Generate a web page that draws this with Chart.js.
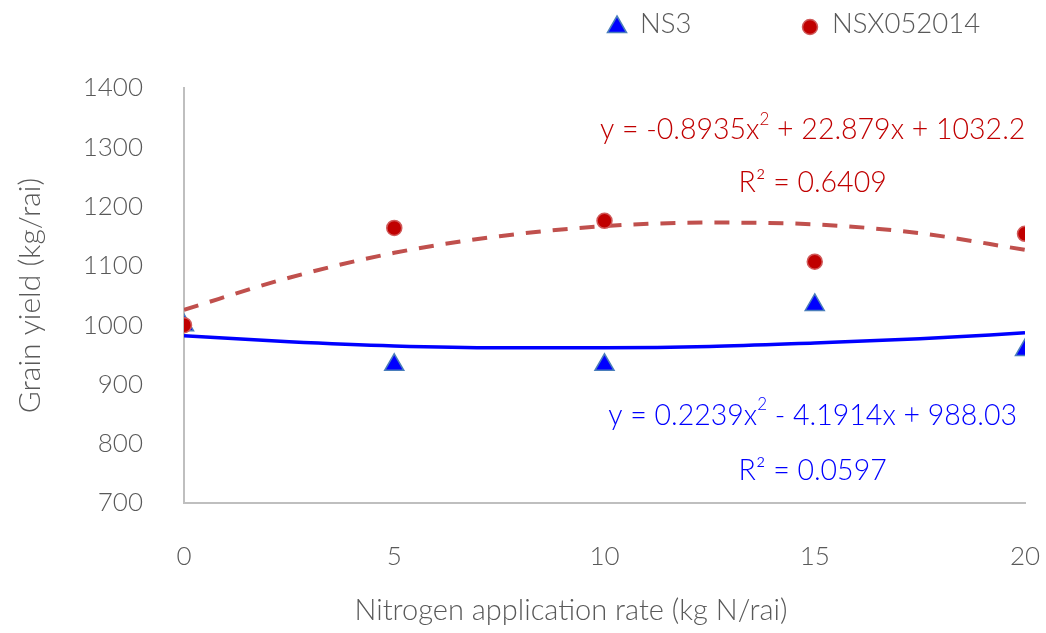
<!DOCTYPE html>
<html>
<head>
<meta charset="utf-8">
<script src="https://cdn.jsdelivr.net/npm/chart.js@4/dist/chart.umd.min.js"></script>
<style>
  html,body{margin:0;padding:0;background:#fff;}
  #wrap{width:1046px;height:633px;position:relative;}
</style>
</head>
<body>
<div id="wrap"><canvas id="c" width="1046" height="633"></canvas></div>
<script>
// ---- data ----
const nitrogenRates = [0, 5, 10, 15, 20];
const ns3Yield = [1000, 933, 933, 1034, 958];
const nsxYield = [1000, 1164, 1176, 1107, 1154];
const trendRates = [0, 2.5, 5, 7.5, 10, 12.5, 15, 17.5, 20];
const ns3Trend = [982, 972, 965, 962, 962, 964, 970, 977, 987];
const nsxTrend = [1026, 1080, 1122, 1150, 1167, 1173, 1170, 1155, 1127];
const seriesNames = ['NS3', 'NSX052014'];
const nsxEquation = ['y = -0.8935x', '2', ' + 22.879x + 1032.2'];
const nsxR2 = 'R² = 0.6409';
const ns3Equation = ['y = 0.2239x', '2', ' - 4.1914x + 988.03'];
const ns3R2 = 'R² = 0.0597';
const xTitle = 'Nitrogen application rate (kg N/rai)';
const yTitle = 'Grain yield (kg/rai)';

const FONT = "Lato, 'Open Sans', sans-serif";
const W = 300;
const GREY = '#595959';

const pts = (xs, ys) => xs.map((x, i) => ({x: x, y: ys[i]}));

const annotPlugin = {
  id: 'annot',
  afterDatasetsDraw(chart) {
    const ctx = chart.ctx;
    const xs = chart.scales.x, ys = chart.scales.y;
    const big = W + ' 28.5px ' + FONT, small = W + ' 17px ' + FONT;
    function eq(parts, xv, yv, color) {
      ctx.save();
      ctx.fillStyle = color;
      ctx.textBaseline = 'middle';
      ctx.font = big; const w0 = ctx.measureText(parts[0]).width;
      const w2 = ctx.measureText(parts[2]).width;
      ctx.font = small; const w1 = ctx.measureText(parts[1]).width;
      let x = xs.getPixelForValue(xv) - (w0 + w1 + w2) / 2;
      const y = ys.getPixelForValue(yv);
      ctx.textAlign = 'left';
      ctx.font = big; ctx.fillText(parts[0], x, y); x += w0;
      ctx.font = small; ctx.fillText(parts[1], x, y - 11); x += w1;
      ctx.font = big; ctx.fillText(parts[2], x, y);
      ctx.restore();
    }
    function txt(t, xv, yv, color) {
      ctx.save();
      ctx.fillStyle = color; ctx.font = big;
      ctx.textAlign = 'center'; ctx.textBaseline = 'middle';
      ctx.fillText(t, xs.getPixelForValue(xv), ys.getPixelForValue(yv));
      ctx.restore();
    }
    eq(nsxEquation, 14.95, 1329, '#c00000');
    txt(nsxR2, 14.95, 1240, '#c00000');
    eq(ns3Equation, 14.95, 847, '#0000ff');
    txt(ns3R2, 14.95, 754, '#0000ff');
  },
  afterDraw(chart) {
    const ctx = chart.ctx;
    // x axis title (offset to the left as in the original)
    ctx.save();
    ctx.fillStyle = GREY;
    ctx.font = W + ' 29px ' + FONT;
    ctx.textAlign = 'center'; ctx.textBaseline = 'middle';
    ctx.fillText(xTitle, 571, 611);
    ctx.restore();
    // legend
    const items = [
      {ds: chart.data.datasets[1], x: 617, tx: 640},
      {ds: chart.data.datasets[0], x: 810, tx: 832}
    ];
    items.forEach(it => {
      ctx.save();
      ctx.fillStyle = it.ds.backgroundColor;
      ctx.strokeStyle = it.ds.borderColor;
      ctx.lineWidth = it.ds.borderWidth;
      Chart.helpers.drawPoint(ctx, {pointStyle: it.ds.pointStyle, radius: it.ds.pointRadius, borderWidth: it.ds.borderWidth}, it.x, 27);
      ctx.fillStyle = GREY;
      ctx.font = W + ' 27.5px ' + FONT;
      ctx.textBaseline = 'middle';
      ctx.fillText(it.ds.label, it.tx, 24);
      ctx.restore();
    });
  }
};

new Chart(document.getElementById('c'), {
  type: 'scatter',
  data: {
    datasets: [
      {
        label: seriesNames[1], data: pts(nitrogenRates, nsxYield),
        pointStyle: 'circle', pointRadius: 7.5, backgroundColor: '#c00000',
        borderColor: '#d05a5a', borderWidth: 1.5, showLine: false
      },
      {
        label: seriesNames[0], data: pts(nitrogenRates, ns3Yield),
        pointStyle: 'triangle', pointRadius: 11, backgroundColor: '#0000ff',
        borderColor: '#4a7ebb', borderWidth: 1.5, showLine: false
      },
      {
        label: 'trend NSX', data: pts(trendRates, nsxTrend), showLine: true,
        borderColor: '#c0504d', borderWidth: 4, borderDash: [15, 12],
        pointRadius: 0, cubicInterpolationMode: 'monotone', fill: false
      },
      {
        label: 'trend NS3', data: pts(trendRates, ns3Trend), showLine: true,
        borderColor: '#0000ff', borderWidth: 3.5,
        pointRadius: 0, cubicInterpolationMode: 'monotone', fill: false
      }
    ]
  },
  options: {
    responsive: false,
    animation: false,
    layout: {padding: {top: 88, right: 21, left: 0, bottom: 0}},
    plugins: {legend: {display: false}, tooltip: {enabled: false}},
    scales: {
      x: {
        type: 'linear', min: 0, max: 20,
        afterFit: s => { s.height = 130; s.paddingRight = 0; s.paddingLeft = 0; },
        ticks: {stepSize: 5, color: GREY, font: {family: FONT, size: 26, weight: W}, padding: 38},
        grid: {display: false, drawTicks: false},
        border: {color: '#bfbfbf', width: 2},
        title: {display: false, text: xTitle}
      },
      y: {
        min: 700, max: 1400,
        afterFit: s => { s.width = 184; },
        ticks: {stepSize: 100, color: GREY, font: {family: FONT, size: 26, weight: W}, padding: 41,
                callback: v => String(v)},
        grid: {display: false, drawTicks: false},
        border: {color: '#bfbfbf', width: 2},
        title: {display: true, text: yTitle, color: GREY, font: {family: FONT, size: 30, weight: W}, padding: {top: 12, bottom: 0}}
      }
    }
  },
  plugins: [annotPlugin]
});
</script>
</body>
</html>
